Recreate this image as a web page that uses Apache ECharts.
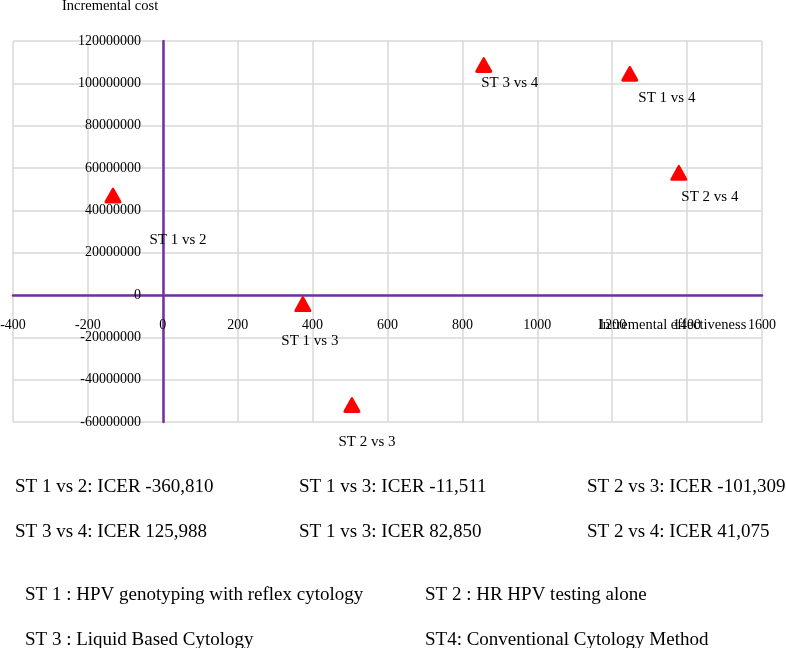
<!DOCTYPE html>
<html>
<head>
<meta charset="utf-8">
<script src="https://cdn.jsdelivr.net/npm/echarts@6/dist/echarts.min.js"></script>
<style>
html,body{margin:0;padding:0;background:#fff;}
#chart{width:786px;height:648px;}
</style>
</head>
<body>
<div id="chart"></div>
<script>
// ---- data ----
var pointNames = ['ST 1 vs 2', 'ST 1 vs 3', 'ST 2 vs 3', 'ST 3 vs 4', 'ST 1 vs 4', 'ST 2 vs 4'];
var incEffectiveness = [-133, 374, 505, 857, 1247, 1378];
var incCost = [47000000, -4300000, -52000000, 108700000, 104500000, 57700000];
var xTicks = { min: -400, max: 1600, step: 200 };
var yTicks = { min: -60000000, max: 120000000, step: 20000000 };
var xAxisTitle = 'Incremental effectiveness';
var yAxisTitle = 'Incremental cost';
var icerRow1 = ['ST 1 vs 2: ICER -360,810', 'ST 1 vs 3: ICER -11,511', 'ST 2 vs 3: ICER -101,309'];
var icerRow2 = ['ST 3 vs 4: ICER 125,988', 'ST 1 vs 3: ICER 82,850', 'ST 2 vs 4: ICER 41,075'];
var legendRow1 = ['ST 1 : HPV genotyping with reflex cytology', 'ST 2 : HR HPV testing alone'];
var legendRow2 = ['ST 3 : Liquid Based Cytology', 'ST4: Conventional Cytology Method'];

// ---- styling ----
var labelOffsets = [[45, 53], [-13, 45], [-5, 45], [6, 26], [17, 32], [11, 32]];
var FONT = 'Liberation Serif';
var PURPLE = '#7030A0';
var GRID = { left: 13, right: 24, top: 41, bottom: 226, width: 749, height: 381 };
// pixel offset of the zero lines inside the grid (axes cross at 0)
var xZeroOffset = -Math.round(GRID.height * (0 - yTicks.min) / (yTicks.max - yTicks.min));
var yZeroOffset = -Math.round(GRID.width * (0 - xTicks.min) / (xTicks.max - xTicks.min));

var seriesData = pointNames.map(function (n, i) {
  return {
    name: n,
    value: [incEffectiveness[i], incCost[i]],
    label: { position: labelOffsets[i] }
  };
});

var graphics = [];
graphics.push({ type: 'text', left: 62, top: -1, style: { text: yAxisTitle, font: '14.5px ' + FONT, fill: '#000' } });
graphics.push({ type: 'text', left: 598, top: 318, style: { text: xAxisTitle, font: '14.5px ' + FONT, fill: '#000' } });
var colX3 = [15, 299, 587];
icerRow1.forEach(function (t, i) {
  graphics.push({ type: 'text', left: colX3[i], top: 478, style: { text: t, font: '19px ' + FONT, fill: '#000' } });
});
icerRow2.forEach(function (t, i) {
  graphics.push({ type: 'text', left: colX3[i], top: 523, style: { text: t, font: '19px ' + FONT, fill: '#000' } });
});
var colX2 = [25, 425];
legendRow1.forEach(function (t, i) {
  graphics.push({ type: 'text', left: colX2[i], top: 586, style: { text: t, font: '19px ' + FONT, fill: '#000' } });
});
legendRow2.forEach(function (t, i) {
  graphics.push({ type: 'text', left: colX2[i], top: 631, style: { text: t, font: '19px ' + FONT, fill: '#000' } });
});

var roundedTriangle = 'path://M44,12 Q50,2 56,12 L92,76 Q99,90 84,90 L16,90 Q1,90 8,76 Z';

var chart = echarts.init(document.getElementById('chart'), null, { renderer: 'canvas' });
chart.setOption({
  backgroundColor: '#fff',
  animation: false,
  grid: { left: GRID.left, right: GRID.right, top: GRID.top, bottom: GRID.bottom, containLabel: false, outerBoundsMode: 'none' },
  xAxis: {
    type: 'value',
    position: 'bottom',
    offset: xZeroOffset,
    min: xTicks.min, max: xTicks.max, interval: xTicks.step,
    axisLine: { onZero: false, lineStyle: { color: PURPLE, width: 2.5 } },
    axisTick: { show: false },
    axisLabel: { fontFamily: FONT, fontSize: 14, color: '#000', margin: 23, formatter: function (v) { return String(v); } },
    splitLine: { show: true, lineStyle: { color: '#d9d9d9', width: 1.5 } }
  },
  yAxis: {
    type: 'value',
    position: 'left',
    offset: yZeroOffset,
    min: yTicks.min, max: yTicks.max, interval: yTicks.step,
    axisLine: { onZero: false, lineStyle: { color: PURPLE, width: 2.5 } },
    axisTick: { show: false },
    axisLabel: { fontFamily: FONT, fontSize: 14, color: '#000', margin: 22, formatter: function (v) { return String(v); } },
    splitLine: { show: true, lineStyle: { color: '#d9d9d9', width: 1.5 } }
  },
  series: [{
    type: 'scatter',
    symbol: roundedTriangle,
    symbolSize: [17, 16],
    itemStyle: { color: '#ff0000', opacity: 1 },
    label: {
      show: true,
      formatter: '{b}',
      fontFamily: FONT, fontSize: 15, color: '#000',
      align: 'left', verticalAlign: 'middle'
    },
    data: seriesData,
    z: 5
  }],
  graphic: graphics
});
</script>
</body>
</html>
